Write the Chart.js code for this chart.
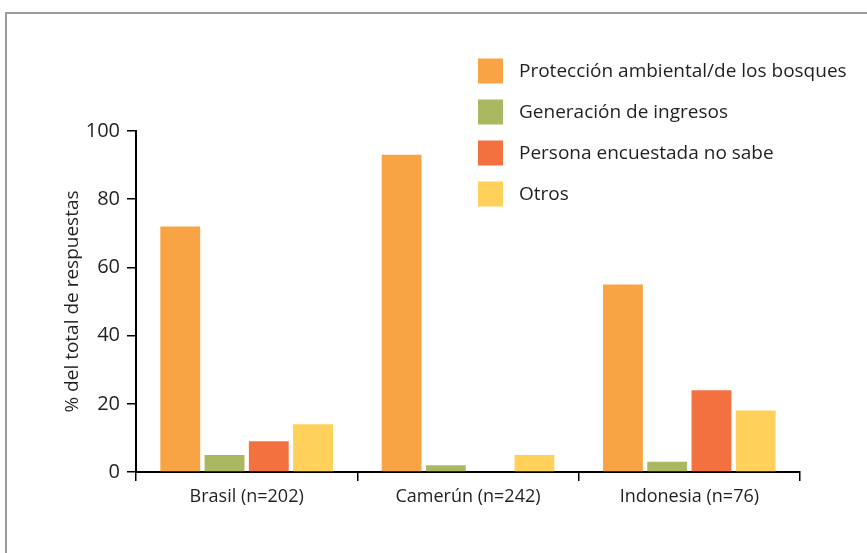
<!DOCTYPE html>
<html>
<head>
<meta charset="utf-8">
<script src="https://cdn.jsdelivr.net/npm/chart.js@4/dist/chart.umd.min.js"></script>
<style>
  html, body { margin: 0; padding: 0; background: #fff; }
  #wrap { width: 867px; height: 553px; position: relative; }
</style>
</head>
<body>
<div id="wrap"><canvas id="barChart"></canvas></div>
<script>
const countries = ["Brasil (n=202)", "Camerún (n=242)", "Indonesia (n=76)"];
const seriesNames = [
  "Protección ambiental/de los bosques",
  "Generación de ingresos",
  "Persona encuestada no sabe",
  "Otros"
];
const proteccion = [72, 93, 55];
const ingresos = [5, 2, 3];
const noSabe = [9, 0, 24];
const otros = [14, 5, 18];
const yTicks = [0, 20, 40, 60, 80, 100];

const colors = ["#f8a444", "#abb862", "#f2713e", "#ffd15b"];
const textColor = "#231f20";
const fontFamily = "'Open Sans', sans-serif";

// marco gris alrededor del grafico
const framePlugin = {
  id: "frame",
  beforeDraw(chart) {
    const ctx = chart.ctx;
    ctx.save();
    ctx.strokeStyle = "#9a9a9a";
    ctx.lineWidth = 2;
    ctx.strokeRect(6, 13, 900, 600);
    ctx.restore();
  }
};

// leyenda vertical dentro del area del grafico
const legendPlugin = {
  id: "sideLegend",
  afterDraw(chart) {
    const ctx = chart.ctx;
    ctx.save();
    ctx.font = "19px " + fontFamily;
    ctx.textBaseline = "middle";
    chart.data.datasets.forEach((ds, i) => {
      const y = 71 + i * 41;
      ctx.fillStyle = ds.backgroundColor;
      ctx.fillRect(478, y - 12.5, 25, 25);
      ctx.fillStyle = textColor;
      ctx.fillText(ds.label, 519, y + 1);
    });
    ctx.restore();
  }
};

const ctx = document.getElementById("barChart").getContext("2d");
const data = {
  labels: countries,
  datasets: [proteccion, ingresos, noSabe, otros].map((vals, i) => ({
    label: seriesNames[i],
    data: vals,
    backgroundColor: colors[i],
    borderWidth: 0,
    categoryPercentage: 0.8,
    barPercentage: 0.9
  }))
};

new Chart(ctx, {
  type: "bar",
  data: data,
  options: {
    responsive: true,
    maintainAspectRatio: false,
    animation: false,
    layout: { padding: { left: 57, right: 67, top: 131, bottom: 0 } },
    plugins: {
      legend: { display: false },
      tooltip: { enabled: false }
    },
    scales: {
      x: {
        grid: {
          drawOnChartArea: false,
          drawTicks: true,
          tickLength: 9,
          color: "#000",
          lineWidth: 1.5
        },
        border: { display: true, color: "#000", width: 2 },
        ticks: {
          color: textColor,
          font: { family: fontFamily, size: 18 },
          padding: 5
        },
        afterFit(scale) { scale.height = 81; }
      },
      y: {
        min: 0,
        max: 100,
        afterBuildTicks(scale) { scale.ticks = yTicks.map(v => ({ value: v })); },
        grid: {
          drawOnChartArea: false,
          drawTicks: true,
          tickLength: 9,
          color: "#000",
          lineWidth: 1.5
        },
        border: { display: true, color: "#000", width: 2 },
        ticks: {
          color: textColor,
          font: { family: fontFamily, size: 20 },
          padding: 7
        },
        title: {
          display: true,
          text: "% del total de respuestas",
          color: textColor,
          font: { family: fontFamily, size: 19 }
        },
        afterFit(scale) { scale.width = 79; }
      }
    }
  },
  plugins: [framePlugin, legendPlugin]
});
</script>
</body>
</html>
